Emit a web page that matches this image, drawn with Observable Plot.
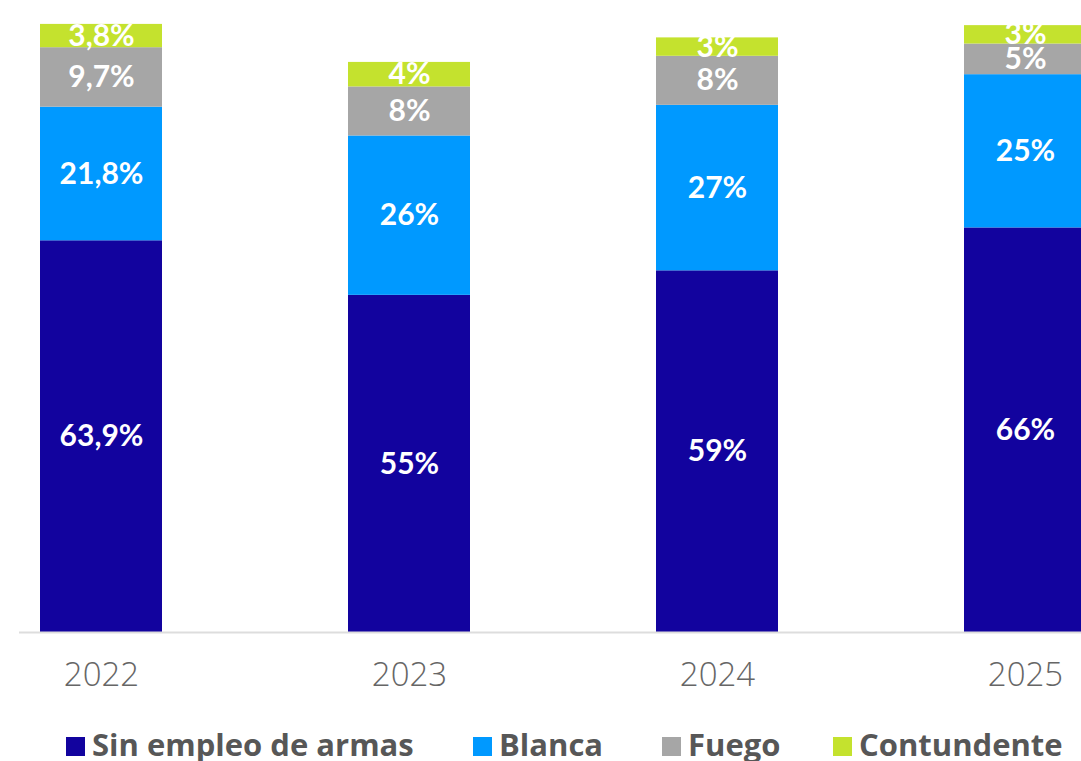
<!DOCTYPE html>
<html>
<head>
<meta charset="utf-8">
<script src="https://cdn.jsdelivr.net/npm/d3@7"></script>
<script src="https://cdn.jsdelivr.net/npm/@observablehq/plot@0.6"></script>
<style>
  html, body { margin: 0; padding: 0; background: #fff; overflow: hidden; }
  #chart svg { display: block; }
  #legend { position: relative; height: 39px; font-family: "Open Sans", Lato, sans-serif; font-weight: 700; font-size: 31px; color: #575757; overflow: hidden; }
  .item { position: absolute; top: 3px; display: flex; align-items: center; white-space: nowrap; line-height: 39px; }
  .sw { width: 19px; height: 19px; margin-right: 7px; margin-top: 4px; }
</style>
</head>
<body>
<div id="chart"></div>
<div id="legend"></div>
<script>
const years = ["2022", "2023", "2024", "2025"];
const categories = ["Sin empleo de armas", "Blanca", "Fuego", "Contundente"];
const colors = ["#12039E", "#0099FF", "#A6A6A6", "#C4E22E"];
const sinEmpleo = [63.9, 55, 59, 66];
const blanca = [21.8, 26, 27, 25];
const fuego = [9.7, 8, 8, 5];
const contundente = [3.8, 4, 3, 3];
const labels = [
  ["63,9%", "55%", "59%", "66%"],
  ["21,8%", "26%", "27%", "25%"],
  ["9,7%", "8%", "8%", "5%"],
  ["3,8%", "4%", "3%", "3%"]
];
const series = [sinEmpleo, blanca, fuego, contundente];
const legendLeft = [66, 473, 662, 833];

const data = [];
years.forEach((y, i) => {
  categories.forEach((c, j) => {
    data.push({year: y, cat: c, value: series[j][i], label: labels[j][i]});
  });
});

const chart = Plot.plot({
  width: 1081,
  height: 722,
  marginTop: 19,
  marginBottom: 90,
  marginLeft: 19,
  marginRight: 0,
  style: {fontFamily: "Lato, 'Open Sans', sans-serif", background: "#fff"},
  x: {domain: years, range: [39, 1086], paddingInner: 0.604, paddingOuter: 0, label: null},
  y: {domain: [0, 100], axis: null},
  color: {domain: categories, range: colors},
  marks: [
    Plot.barY(data, Plot.stackY({x: "year", y: "value", fill: "cat", order: categories})),
    Plot.text(data, Plot.stackY({x: "year", y: "value", z: "cat", order: categories, text: "label",
      fill: "white", fontSize: 30, fontWeight: 700})),
    Plot.ruleY([0], {stroke: "#dddddd", strokeWidth: 2}),
    Plot.axisX({tickSize: 0, tickPadding: 30, fontSize: 33, fontWeight: 300, color: "#666", label: null,
      fontFamily: "'Open Sans', Lato, sans-serif"})
  ]
});
document.getElementById("chart").appendChild(chart);

const legend = document.getElementById("legend");
categories.forEach((c, j) => {
  const item = document.createElement("div");
  item.className = "item";
  item.style.left = legendLeft[j] + "px";
  const sw = document.createElement("span");
  sw.className = "sw";
  sw.style.background = colors[j];
  const t = document.createElement("span");
  t.textContent = c;
  item.appendChild(sw);
  item.appendChild(t);
  legend.appendChild(item);
});
</script>
</body>
</html>
